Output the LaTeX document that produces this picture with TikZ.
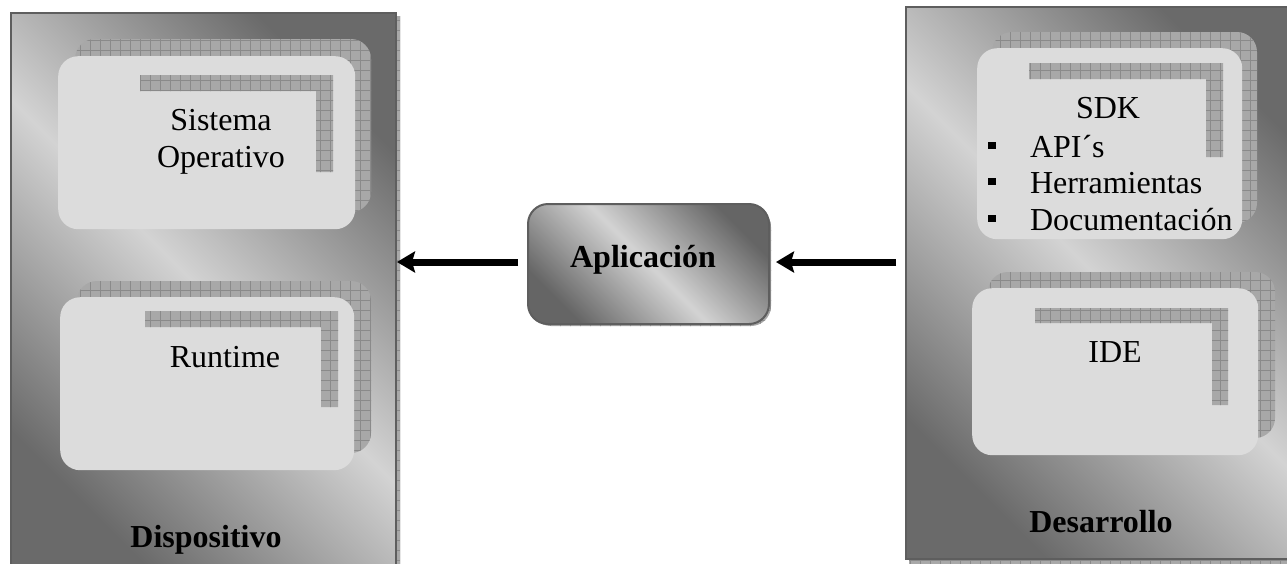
\documentclass[tikz,border=0pt]{standalone}
\usepackage{fontspec}
\setmainfont{Liberation Serif}
\usetikzlibrary{arrows.meta}

\definecolor{panedark}{HTML}{6A6A6A}
\definecolor{panelight}{HTML}{D3D3D3}
\definecolor{cardfill}{HTML}{DCDCDC}
\definecolor{texbase}{HTML}{A8A8A8}
\definecolor{texline}{HTML}{8A8A8A}
\definecolor{rimgray}{HTML}{5E5E5E}

% grid-textured fill used for the raised shadows and corner brackets
\newcommand\texfill[1]{%
  \begin{scope}
    \clip #1;
    \fill[texbase] (0,0) rectangle (1300,600);
    \draw[texline, line width=0.6pt, step=10pt] (0,600) grid (1300,0);
  \end{scope}}

\tikzset{
  lbl/.style={font=\fontsize{32}{37}\selectfont, inner sep=0pt, outer sep=0pt},
  blbl/.style={lbl, font=\fontsize{32}{37}\selectfont\bfseries},
  panel/.style={draw=rimgray, line width=2pt, rectangle, anchor=north west,
    top color=panedark, bottom color=panedark, middle color=panelight,
    shading angle=-45},
  card/.style={fill=cardfill, rounded corners=20pt, rectangle, anchor=north west},
  appbox/.style={draw=rimgray, line width=2pt, rounded corners=20pt, rectangle,
    anchor=north west, top color=panedark!95!black, bottom color=panedark!95!black,
    middle color=panelight, shading angle=-45},
  arr/.style={line width=7pt, -{Stealth[length=18pt,width=21pt,inset=3pt]}},
}

\begin{document}
\begin{tikzpicture}[x=1pt, y=-1pt]
\useasboundingbox (0,0) rectangle (1287,563);
\fill[white] (0,0) rectangle (1287,563);
\clip (0,0) rectangle (1287,563);

% ---- left panel: device ----
\texfill{(395,16) rectangle (400,600)}
\node[panel, minimum width=385pt, minimum height=558pt] (dev) at (10,12) {};

\texfill{[rounded corners=20pt] (75,39) rectangle (371,212)}
\node[card, minimum width=297pt, minimum height=173pt] (so) at (58,56) {};
\texfill{(140,75) -- (333,75) -- (333,172) -- (316,172) -- (316,91) -- (140,91) -- cycle}
\node[lbl, align=center, anchor=base] (so-t) at (221,167) {Sistema\\Operativo};

\texfill{[rounded corners=20pt] (77,281) rectangle (371,453)}
\node[card, minimum width=294pt, minimum height=173pt] (rt) at (60,297) {};
\texfill{(145,311) -- (338,311) -- (338,407) -- (321,407) -- (321,327) -- (145,327) -- cycle}
\node[lbl, anchor=base] (rt-t) at (225,367) {Runtime};

\node[blbl, anchor=base] (dev-t) at (206,547) {Dispositivo};

% ---- right panel: development ----
\texfill{(909,558) rectangle (1300,600)}
\node[panel, minimum width=395pt, minimum height=552pt] (desa) at (905,6) {};

\texfill{[rounded corners=20pt] (992,32) rectangle (1257,223)}
\node[card, minimum width=265pt, minimum height=191pt] (sdk) at (977,48) {};
\texfill{(1029,63) -- (1223,63) -- (1223,157) -- (1206,157) -- (1206,79) -- (1029,79) -- cycle}
\node[lbl, anchor=base] (sdk-t) at (1108,118) {SDK};
\node[lbl, anchor=base west] (sdk-a) at (988,157) {\raisebox{8pt}{\rule{7.5pt}{7.5pt}}\hspace{34.5pt}API´s};
\node[lbl, anchor=base west] (sdk-h) at (988,193) {\raisebox{8pt}{\rule{7.5pt}{7.5pt}}\hspace{34.5pt}Herramientas};
\node[lbl, anchor=base west] (sdk-d) at (988,230) {\raisebox{8pt}{\rule{7.5pt}{7.5pt}}\hspace{34.5pt}Documentación};

\texfill{[rounded corners=20pt] (988,272) rectangle (1275,438)}
\node[card, minimum width=286pt, minimum height=167pt] (ide) at (972,288) {};
\texfill{(1035,308) -- (1228,308) -- (1228,405) -- (1212,405) -- (1212,323) -- (1035,323) -- cycle}
\node[lbl, anchor=base] (ide-t) at (1115,362) {IDE};

\node[blbl, anchor=base] (desa-t) at (1101,532) {Desarrollo};

% ---- application ----
\texfill{[rounded corners=20pt] (531,207) rectangle (771,326)}
\node[appbox, minimum width=241pt, minimum height=120pt] (app) at (527,203) {};
\node[blbl, anchor=base] (app-t) at (643,267) {Aplicación};

% ---- connectors ----
\draw[arr, shorten <=9pt] ([yshift=2pt]app.west) -- ([yshift=2pt]app.west -| dev.east);
\draw[arr, shorten <=9pt, shorten >=6pt] ([yshift=2pt]app.east -| desa.west) -- ([yshift=2pt]app.east);
\end{tikzpicture}
\end{document}
